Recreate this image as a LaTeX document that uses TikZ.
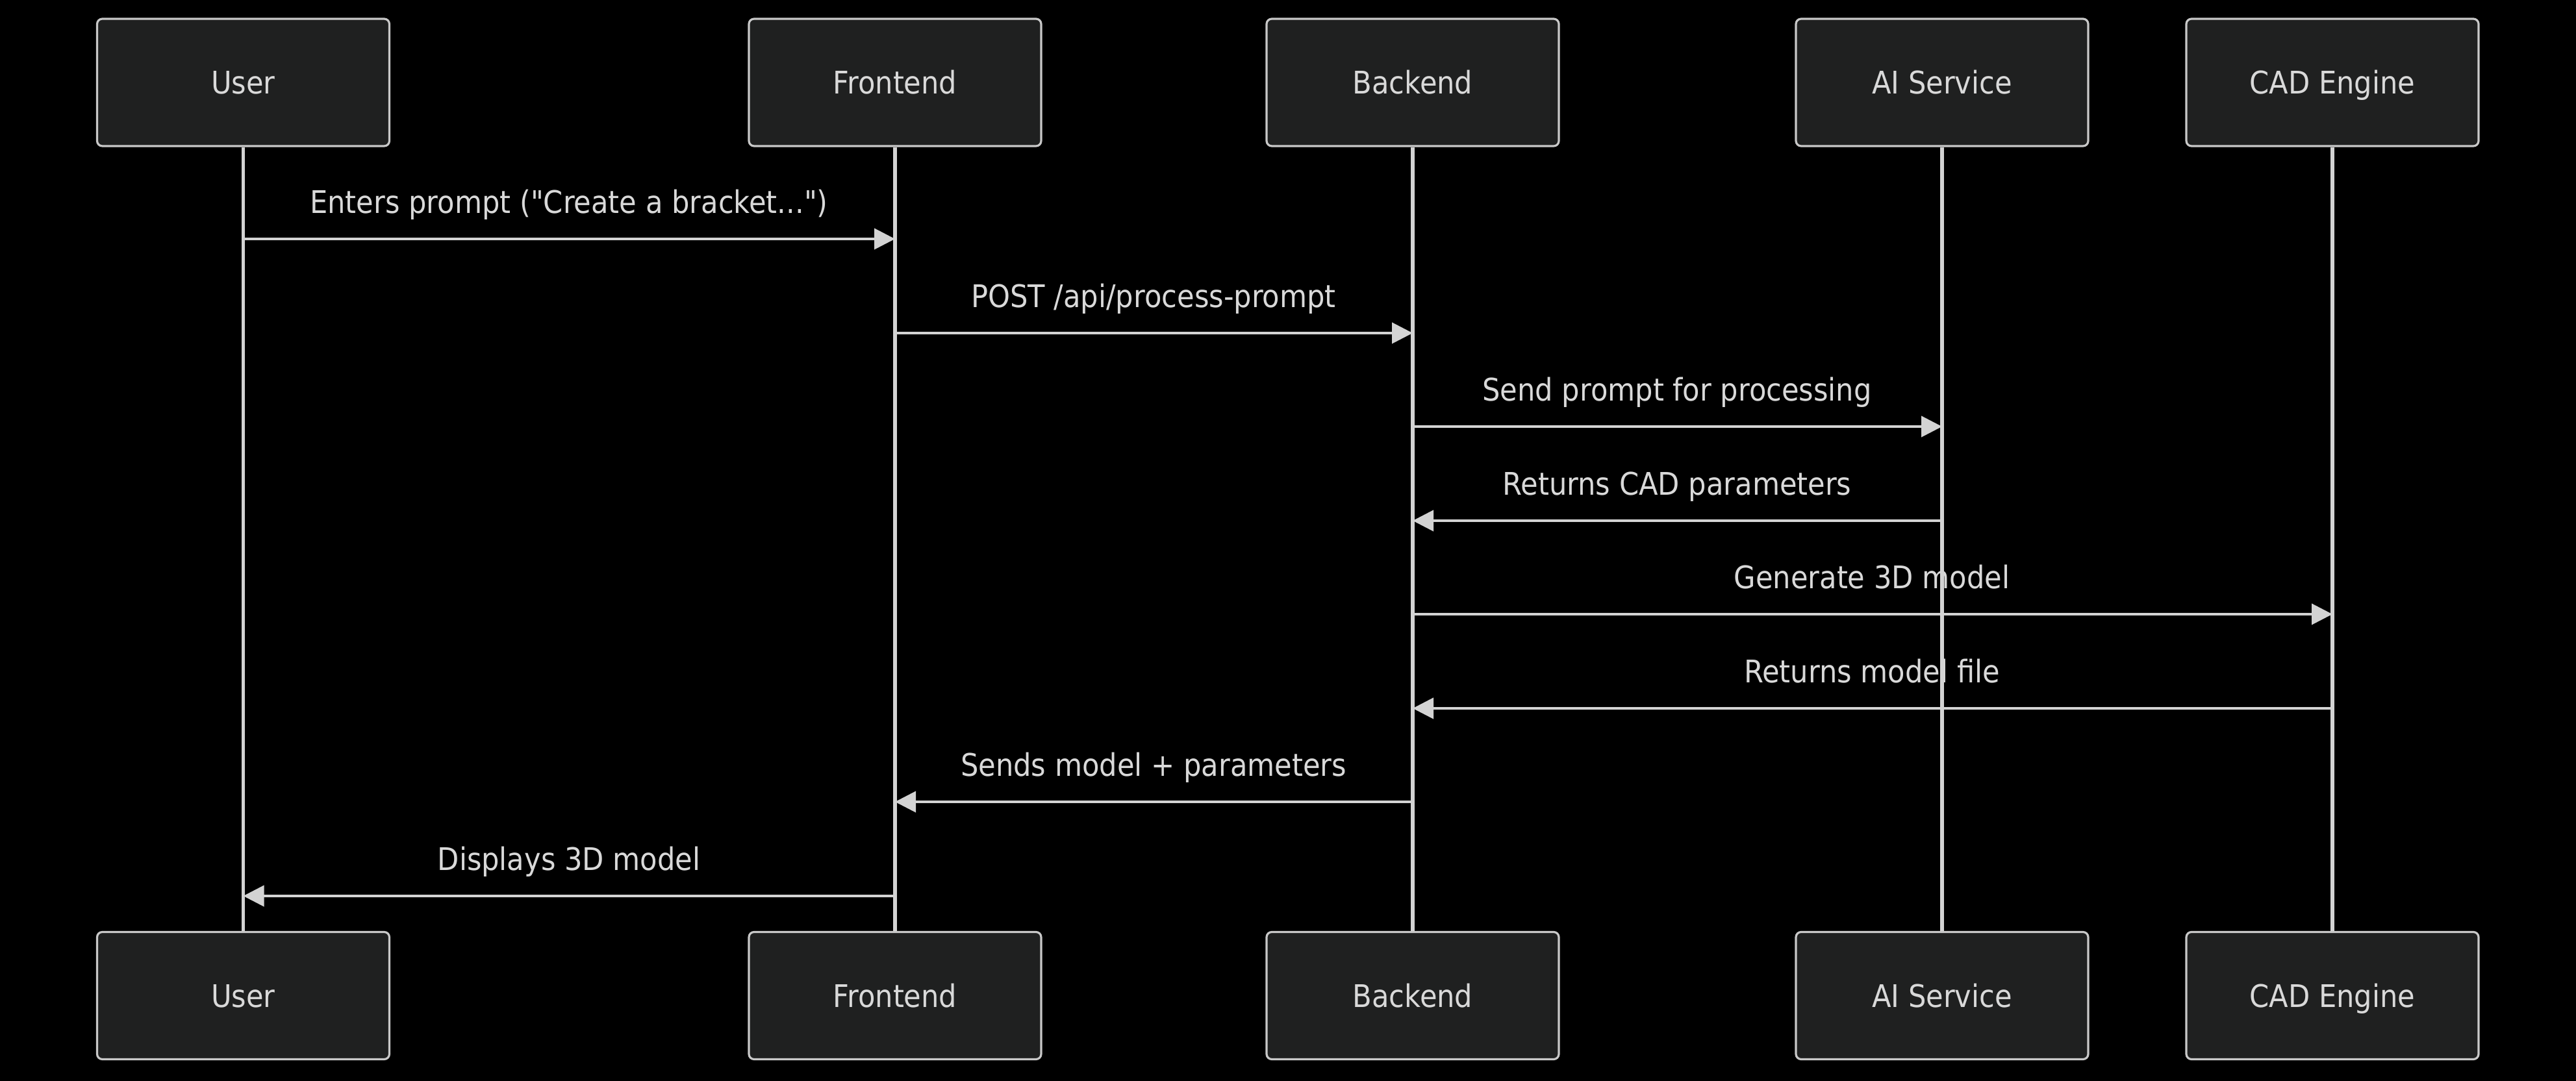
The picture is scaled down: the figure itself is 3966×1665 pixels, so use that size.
\documentclass[tikz,border=0pt]{standalone}
\usepackage{fontspec}
\setmainfont{DejaVu Sans}[FakeStretch=0.9, Ligatures=TeXOff]
\usetikzlibrary{arrows.meta}
\definecolor{bg}{HTML}{000000}
\definecolor{boxfill}{HTML}{1F2020}
\definecolor{boxline}{HTML}{C8C8C8}
\definecolor{txt}{HTML}{D9D9D9}
\definecolor{linec}{HTML}{D3D3D3}
\tikzset{
  actorbox/.style={draw=boxline, line width=0.8pt, fill=boxfill, rounded corners=2pt,
    minimum width=112.5pt, minimum height=49pt, inner sep=0pt,
    text height=11pt, text depth=2pt,
    text=txt, font=\fontsize{12pt}{14pt}\selectfont},
  lifeline/.style={draw=linec, line width=1.3pt},
  msg/.style={draw=linec, line width=1pt, -{Triangle[length=8pt,width=8pt]}},
  msglabel/.style={anchor=base, inner sep=0pt, text=txt, font=\fontsize{12pt}{14pt}\selectfont}
}
\begin{document}
\begin{tikzpicture}[x=0.25pt,y=-0.25pt]
\fill[bg] (0,0) rectangle (3966,1665);
\useasboundingbox (0,0) rectangle (3966,1665);
% actors top
\node[actorbox] (uT) at (374.5,127) {User};
\node[actorbox] (fT) at (1378,127) {Frontend};
\node[actorbox] (bT) at (2175,127) {Backend};
\node[actorbox] (aT) at (2990,127) {AI Service};
\node[actorbox] (cT) at (3591,127) {CAD Engine};
% actors bottom
\node[actorbox] (uB) at (374.5,1533.5) {User};
\node[actorbox] (fB) at (1378,1533.5) {Frontend};
\node[actorbox] (bB) at (2175,1533.5) {Backend};
\node[actorbox] (aB) at (2990,1533.5) {AI Service};
\node[actorbox] (cB) at (3591,1533.5) {CAD Engine};
% message rows
\coordinate (r1) at (0,368);
\coordinate (r2) at (0,513);
\coordinate (r3) at (0,657);
\coordinate (r4) at (0,802);
\coordinate (r5) at (0,946);
\coordinate (r6) at (0,1091);
\coordinate (r7) at (0,1235);
\coordinate (r8) at (0,1380);
% labels
\node[msglabel] (l1) at (876,329) {Enters prompt ("Create a bracket...")};
\node[msglabel] (l2) at (1776,474) {POST /api/process-prompt};
\node[msglabel] (l3) at (2582,618) {Send prompt for processing};
\node[msglabel] (l4) at (2582,763) {Returns CAD parameters};
\node[msglabel] (l5) at (2882,907) {Generate 3D model};
\node[msglabel] (l6) at (2882,1052) {Returns model file};
\node[msglabel] (l7) at (1776,1196) {Sends model + parameters};
\node[msglabel] (l8) at (876,1341) {Displays 3D model};
% lifelines
\draw[lifeline] (uT.south) -- (uB.north);
\draw[lifeline] (fT.south) -- (fB.north);
\draw[lifeline] (bT.south) -- (bB.north);
\draw[lifeline] (aT.south) -- (aB.north);
\draw[lifeline] (cT.south) -- (cB.north);
% messages
\draw[msg] (uT |- r1) -- (fT |- r1);
\draw[msg] (fT |- r2) -- (bT |- r2);
\draw[msg] (bT |- r3) -- (aT |- r3);
\draw[msg] (aT |- r4) -- (bT |- r4);
\draw[msg] (bT |- r5) -- (cT |- r5);
\draw[msg] (cT |- r6) -- (bT |- r6);
\draw[msg] (bT |- r7) -- (fT |- r7);
\draw[msg] (fT |- r8) -- (uT |- r8);
\end{tikzpicture}
\end{document}
